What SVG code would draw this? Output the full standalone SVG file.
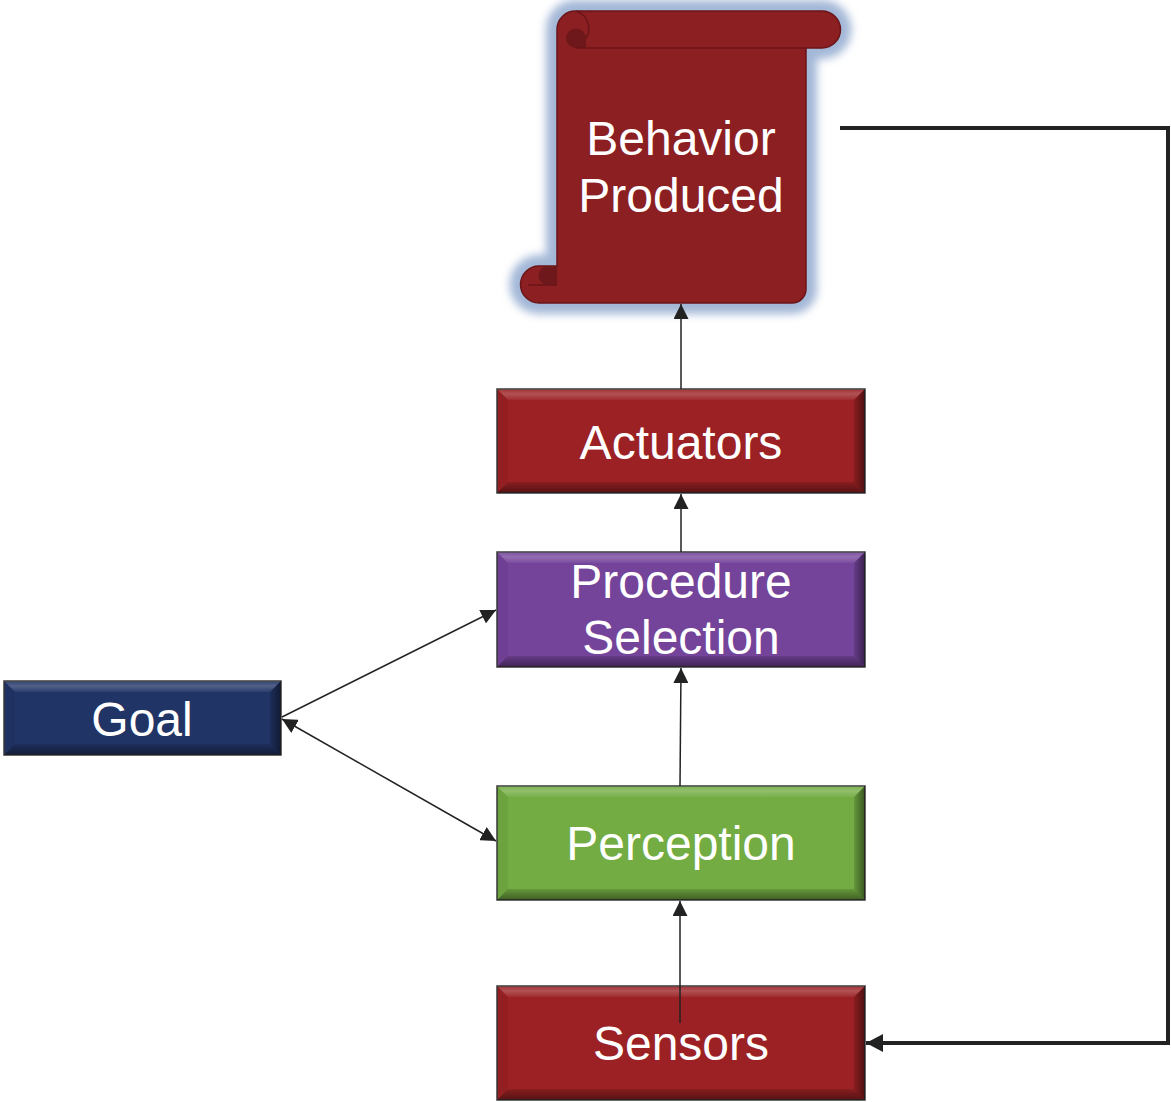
<svg xmlns="http://www.w3.org/2000/svg" width="1171" height="1102" viewBox="0 0 1171 1102">
  <style>
    .label { font-family: "Liberation Sans", Arial, sans-serif; font-size: 48px; fill: #ffffff; text-anchor: middle; }
    .frame { stroke: #3a3a3a; stroke-width: 1.5; }
    .bev-top { fill: url(#topShine); }
    .bev-left { fill: #000000; fill-opacity: 0.05; }
    .bev-right { fill: url(#sideShade); }
    .bev-bottom { fill: url(#bottomShade); }
    .link { fill: none; stroke: #222222; stroke-width: 1.5; }
    .loop { fill: none; stroke: #222222; stroke-width: 4; }
    .red { fill: #9b2124; }
    .purple { fill: #74439a; }
    .green { fill: #72ac42; }
    .navy { fill: #213466; }
  </style>
  <defs>
    <linearGradient id="topShine" x1="0" y1="0" x2="0" y2="1">
      <stop offset="0" stop-color="#ffffff" stop-opacity="0.08"/>
      <stop offset="0.45" stop-color="#ffffff" stop-opacity="0.22"/>
      <stop offset="1" stop-color="#ffffff" stop-opacity="0.05"/>
    </linearGradient>
    <linearGradient id="sideShade" x1="0" y1="0" x2="1" y2="0">
      <stop offset="0" stop-color="#000000" stop-opacity="0.12"/>
      <stop offset="1" stop-color="#000000" stop-opacity="0.5"/>
    </linearGradient>
    <linearGradient id="bottomShade" x1="0" y1="0" x2="0" y2="1">
      <stop offset="0" stop-color="#000000" stop-opacity="0.12"/>
      <stop offset="1" stop-color="#000000" stop-opacity="0.45"/>
    </linearGradient>
    <marker id="head" markerUnits="userSpaceOnUse" viewBox="0 0 15 15" markerWidth="15" markerHeight="15" refX="15" refY="7.5" orient="auto-start-reverse">
      <path d="M0,0 L15,7.5 L0,15 Z" fill="#222222"/>
    </marker>
    <marker id="head-bold" markerUnits="userSpaceOnUse" viewBox="0 0 17 18" markerWidth="17" markerHeight="18" refX="17" refY="9" orient="auto">
      <path d="M0,0 L17,9 L0,18 Z" fill="#222222"/>
    </marker>
    <filter id="glow" x="-20%" y="-20%" width="140%" height="140%">
      <feGaussianBlur stdDeviation="4"/>
    </filter>
    <path id="scroll-outline" d="M576,11 H822 A18.5,18.5 0 0 1 822,48 H806 V289 A14,14 0 0 1 792,303 H539 A18.5,18.5 0 0 1 539,266 H557 V29.5 A18.5,18.5 0 0 1 576,11 Z"/>
  </defs>

  <!-- Output scroll -->
  <g id="behavior-produced">
    <use href="#scroll-outline" fill="#a3b7d7" stroke="#a3b7d7" stroke-width="22" stroke-linejoin="round" filter="url(#glow)"/>
    <use href="#scroll-outline" fill="#8c1f22" stroke="#6a1518" stroke-width="1.5"/>
    <path d="M566,38.5 A10,10 0 0 1 586,38.5 V48 H576 A10,10 0 0 1 566,38.5 Z" fill="#6e181b"/>
    <path d="M576,11 A18.5,18.5 0 0 1 586,38.5 M576,48 H806" fill="none" stroke="#6a1518" stroke-width="1.5"/>
    <path d="M548,266 H557 V285 H548 A9.5,9.5 0 0 1 548,266 Z" fill="#6e181b"/>
    <path d="M528,285 H557" fill="none" stroke="#6a1518" stroke-width="1.5"/>
    <text class="label" x="681" y="155">Behavior</text>
    <text class="label" x="681" y="212">Produced</text>
  </g>

  <!-- Bevelled boxes -->
  <g id="actuators">
    <rect class="red frame" x="497" y="389" width="368" height="104"/>
    <polygon class="bev-top" points="497,389 865,389 854,400 508,400"/>
    <polygon class="bev-left" points="497,389 508,400 508,482 497,493"/>
    <polygon class="bev-right" points="865,389 854,400 854,482 865,493"/>
    <polygon class="bev-bottom" points="497,493 865,493 854,482 508,482"/>
    <text class="label" x="681" y="459">Actuators</text>
  </g>

  <g id="procedure-selection">
    <rect class="purple frame" x="497" y="552" width="368" height="115"/>
    <polygon class="bev-top" points="497,552 865,552 854,563 508,563"/>
    <polygon class="bev-left" points="497,552 508,563 508,656 497,667"/>
    <polygon class="bev-right" points="865,552 854,563 854,656 865,667"/>
    <polygon class="bev-bottom" points="497,667 865,667 854,656 508,656"/>
    <text class="label" x="681" y="598">Procedure</text>
    <text class="label" x="681" y="654">Selection</text>
  </g>

  <g id="goal">
    <rect class="navy frame" x="4" y="681" width="277" height="74"/>
    <polygon class="bev-top" points="4,681 281,681 270,692 15,692"/>
    <polygon class="bev-left" points="4,681 15,692 15,744 4,755"/>
    <polygon class="bev-right" points="281,681 270,692 270,744 281,755"/>
    <polygon class="bev-bottom" points="4,755 281,755 270,744 15,744"/>
    <text class="label" x="142" y="736">Goal</text>
  </g>

  <g id="perception">
    <rect class="green frame" x="497" y="786" width="368" height="114"/>
    <polygon class="bev-top" points="497,786 865,786 854,797 508,797"/>
    <polygon class="bev-left" points="497,786 508,797 508,889 497,900"/>
    <polygon class="bev-right" points="865,786 854,797 854,889 865,900"/>
    <polygon class="bev-bottom" points="497,900 865,900 854,889 508,889"/>
    <text class="label" x="681" y="860">Perception</text>
  </g>

  <g id="sensors">
    <rect class="red frame" x="497" y="986" width="368" height="114"/>
    <polygon class="bev-top" points="497,986 865,986 854,997 508,997"/>
    <polygon class="bev-left" points="497,986 508,997 508,1089 497,1100"/>
    <polygon class="bev-right" points="865,986 854,997 854,1089 865,1100"/>
    <polygon class="bev-bottom" points="497,1100 865,1100 854,1089 508,1089"/>
    <text class="label" x="681" y="1060">Sensors</text>
  </g>

  <!-- Connectors -->
  <g id="connectors">
    <line class="link" x1="681" y1="389" x2="681" y2="304" marker-end="url(#head)"/>
    <line class="link" x1="681" y1="552" x2="681" y2="494" marker-end="url(#head)"/>
    <line class="link" x1="680" y1="786" x2="681" y2="668" marker-end="url(#head)"/>
    <line class="link" x1="680" y1="1023" x2="680" y2="901" marker-end="url(#head)"/>
    <line class="link" x1="282" y1="717" x2="496" y2="610" marker-end="url(#head)"/>
    <line class="link" x1="282" y1="719" x2="496" y2="841" marker-start="url(#head)" marker-end="url(#head)"/>
    <polyline class="loop" points="840,128 1168,128 1168,1043 866,1043" marker-end="url(#head-bold)"/>
  </g>
</svg>
